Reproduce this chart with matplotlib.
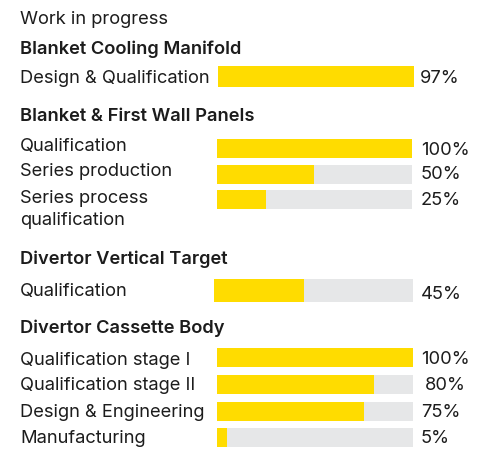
"""Work-in-progress bars for the in-vessel component programmes."""

import matplotlib

matplotlib.use('Agg')
import matplotlib.pyplot as plt

TITLE = 'Work in progress'

SECTIONS = [
    'Blanket Cooling Manifold',
    'Blanket & First Wall Panels',
    'Divertor Vertical Target',
    'Divertor Cassette Body',
]

# one list of steps and one list of percentages per section
STEPS = [
    ['Design & Qualification'],
    ['Qualification', 'Series production', 'Series process\nqualification'],
    ['Qualification'],
    ['Qualification stage I', 'Qualification stage II',
     'Design & Engineering', 'Manufacturing'],
]
PERCENT = [
    [97],
    [100, 50, 25],
    [45],
    [100, 80, 75, 5],
]

YELLOW = '#ffdc00'
TRACK = '#e6e7e8'
INK = '#1c1c1c'
FONT = 'Inter'
SIZE = 13.2

# layout in pixels (y grows downwards)
W, H = 481, 451
TEXT_X = 20
DY = 1.5  # nudge text centres down a little
HEADER_Y = [48, 115, 258, 327]
BAR_Y = [[76.5], [148.5, 174, 199.5], [290.5], [357.5, 384, 411.5, 437.5]]
BAR_H = [21, 19, 23, 19]
BAR_X = [(218, 420), (217, 412), (214, 413), (217, 413)]
SHOW_TRACK = [False, True, True, True]
LABEL_Y = [[77], [145, 170, 208], [290], [359, 384, 411, 437]]
PCT_Y = [[77], [149, 173, 199], [293], [358, 384, 411, 437]]
PCT_X = [[420], [421, 421, 421], [421], [421, 425, 421, 421]]


def main():
    fig = plt.figure(figsize=(W / 100, H / 100), dpi=100)
    ax = fig.add_axes([0, 0, 1, 1])
    ax.set_xlim(0, W)
    ax.set_ylim(H, 0)
    ax.axis('off')

    ax.text(TEXT_X, 18 + DY, TITLE, fontsize=SIZE, family=FONT, color=INK,
            va='center', ha='left')

    for s, header in enumerate(SECTIONS):
        ax.text(TEXT_X, HEADER_Y[s] + DY, header, fontsize=SIZE, family=FONT,
                weight='semibold', color=INK, va='center', ha='left')
        left, right = BAR_X[s]
        span = right - left
        for i, (step, pct) in enumerate(zip(STEPS[s], PERCENT[s])):
            y = BAR_Y[s][i]
            if SHOW_TRACK[s]:
                ax.barh(y, span, left=left, height=BAR_H[s], color=TRACK,
                        linewidth=0)
            ax.barh(y, span * pct / 100, left=left, height=BAR_H[s],
                    color=YELLOW, linewidth=0)
            ax.text(TEXT_X, LABEL_Y[s][i] + DY, step, fontsize=SIZE,
                    family=FONT, color=INK, va='center', ha='left',
                    linespacing=1.45)
            ax.text(PCT_X[s][i], PCT_Y[s][i] + DY, f'{pct}%', fontsize=SIZE,
                    family=FONT, color=INK, va='center', ha='left')

    fig.savefig('out.png', dpi=100)
    plt.close(fig)


if __name__ == '__main__':
    main()
